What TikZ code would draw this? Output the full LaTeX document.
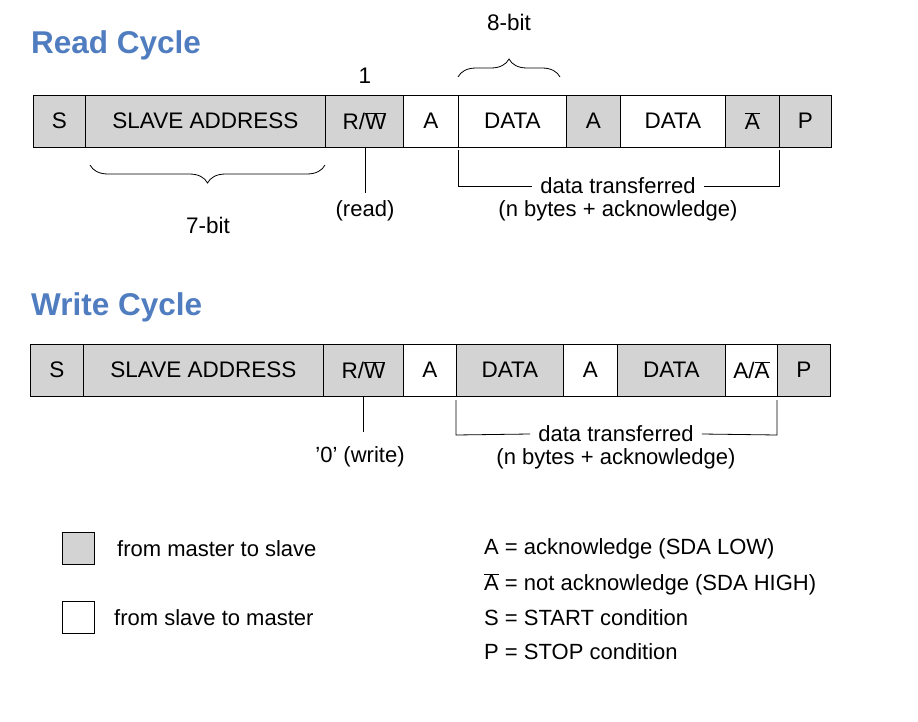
\documentclass[tikz,border=0pt]{standalone}
\usepackage{fontspec}
\setmainfont{Liberation Sans}
\usetikzlibrary{decorations.pathreplacing}
\definecolor{titleblue}{HTML}{4F7DBF}
\definecolor{cellgray}{HTML}{D3D3D3}
\begin{document}
\begin{tikzpicture}[x=1pt, y=-1pt,
  every node/.style={font=\fontsize{22.5}{26}\selectfont, inner sep=0pt},
  cell/.style={draw=black, line width=0.8pt, minimum height=52pt, anchor=west},
  title/.style={font=\fontsize{31.5}{35}\selectfont\bfseries, text=titleblue, anchor=west},
  brace/.style={decorate, decoration={brace, amplitude=18pt}, line width=0.8pt},
  lbl/.style={font=\fontsize{22}{25}\selectfont}]

\useasboundingbox (0,0) rectangle (918,722);

% read cycle
\node[title] (RT) at (31,45) {Read Cycle};
\foreach \n/\a/\b/\f/\t in {r1/33/85/cellgray/S, r2/85/325/cellgray/SLAVE ADDRESS,
    r3/325/403/cellgray/{R/$\overline{\mbox{W}}$}, r4/403/458/white/A, r5/458/566/white/DATA,
    r6/566/620/cellgray/A, r7/620/725/white/DATA, r8/725/779/cellgray/$\overline{\mbox{A}}$,
    r9/779/831/cellgray/P}
  \node[cell, fill=\f, minimum width=\b-\a] (\n) at (\a,121) {\t};

\draw[brace] (458,77) -- (560,77);
\node (rbyte) at (509,22) {8-bit};
\node (rone) at (365,76) {1};
\draw[brace] (325,165) -- (90,165);
\node (raddr) at (208,225) {7-bit};
\coordinate (rrw) at (365,193);
\draw[line width=0.8pt] (365,147) -- (rrw);
\node[lbl] (rread) at (365,211) {(read)};
\node[lbl] (rdata) at (618,186) {data transferred};
\node[lbl] (rbytes) at (618,211) {(n bytes + acknowledge)};
\draw[line width=0.8pt] (458,150) -- (458,186) -- ([xshift=-8pt]rdata.west);
\draw[line width=0.8pt] (779,150) -- (779,186) -- ([xshift=8pt]rdata.east);

% write cycle
\node[title] (WT) at (31,307) {Write Cycle};
\foreach \n/\a/\b/\f/\t in {w1/30/83/cellgray/S, w2/83/323/cellgray/SLAVE ADDRESS,
    w3/323/403/cellgray/{R/$\overline{\mbox{W}}$}, w4/403/456/white/A, w5/456/563/cellgray/DATA,
    w6/563/617/white/A, w7/617/725/cellgray/DATA, w8/725/777/white/{A/$\overline{\mbox{A}}$},
    w9/777/830/cellgray/P}
  \node[cell, fill=\f, minimum width=\b-\a] (\n) at (\a,370) {\t};

\draw[line width=0.8pt] (363,396) -- (363,432);
\node[lbl] (wwrite) at (360,457) {'0' (write)};
\node[lbl] (wdata) at (616,434) {data transferred};
\node[lbl] (wbytes) at (616,459) {(n bytes + acknowledge)};
\draw[line width=0.8pt] (456,400) -- (456,435) -- ([xshift=-8pt]wdata.west);
\draw[line width=0.8pt] (777,400) -- (777,435) -- ([xshift=8pt]wdata.east);

% legend
\node[draw, line width=0.8pt, fill=cellgray, minimum size=32pt] (kgray) at (78,548) {};
\node[lbl, anchor=west] (kms) at (117,549) {from master to slave};
\node[draw, line width=0.8pt, fill=white, minimum size=32pt] (kwhite) at (78,617) {};
\node[lbl, anchor=west] (ksm) at (114,618) {from slave to master};
\node[lbl, anchor=west] (ka) at (484,549) {A = acknowledge (SDA LOW)};
\node[lbl, anchor=west] (kna) at (484,584) {$\overline{\mbox{A}}$ = not acknowledge (SDA HIGH)};
\node[lbl, anchor=west] (ks) at (484,618) {S = START condition};
\node[lbl, anchor=west] (kp) at (484,652) {P = STOP condition};
\end{tikzpicture}
\end{document}
